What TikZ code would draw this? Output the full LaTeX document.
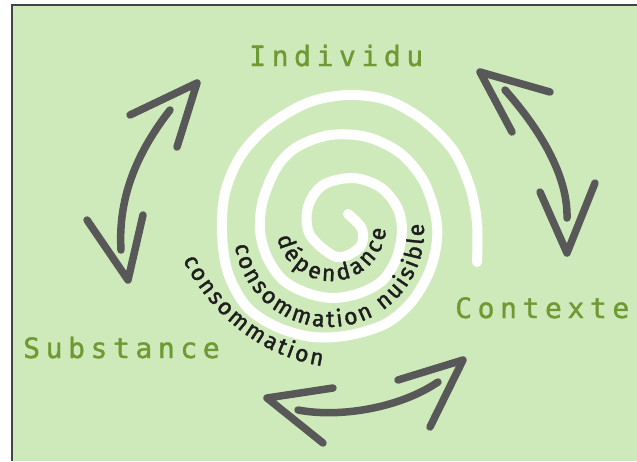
\documentclass[tikz,border=0pt]{standalone}
\usepackage{fontspec}
\usetikzlibrary{decorations.text}
\newfontfamily\labelfont[FakeBold=1.2]{DejaVu Sans Mono}
\newfontfamily\curvefont[FakeBold=1.6]{Fira Sans}
\definecolor{bg}{HTML}{CFEABA}
\definecolor{lblgreen}{HTML}{6E9A34}
\definecolor{arrowgray}{HTML}{585858}
\definecolor{ink}{HTML}{1E1E1E}
\definecolor{frame}{HTML}{444444}
\makeatletter
\def\spacedtext#1#2{\def\sp@kern{#1}\sp@loop#2\@nil}
\def\sp@loop#1{\ifx#1\@nil\else#1\kern\sp@kern\expandafter\sp@loop\fi}
\makeatother
\begin{document}
\begin{tikzpicture}[x=1pt,y=-1pt,
  lbl/.style={inner sep=0pt, anchor=base west, text=lblgreen, font=\labelfont\fontsize{28}{30}\selectfont},
  arr/.style={draw=arrowgray, line width=7.5pt, line cap=round, line join=round},
  spiralline/.style={draw=white, line width=10pt, line cap=round, line join=round}]
\useasboundingbox (0,0) rectangle (637,461);
\fill[white] (0,0) rectangle (637,461);
\fill[bg] (12,5) rectangle (637,461);
\draw[frame, line width=1.3pt] (12,461) -- (12,5) -- (637,5);

% labels
\node[lbl] (individu) at (249,66) {\spacedtext{5.6pt}{Individu}};
\node[lbl] (contexte) at (455,318) {\spacedtext{5.6pt}{Contexte}};
\node[lbl] (substance) at (23,358) {\spacedtext{5.6pt}{Substance}};

% spiral
\draw[spiralline] plot[smooth, tension=0.55] coordinates {
 (348,214) (362,229) (360,247) (337,257) (310,235) (308,207) (323,185) (353,178)
 (380,187) (397,207) (402,230) (397,257) (383,280) (360,293) (333,298) (307,293)
 (283,280) (267,257) (260,230) (263,200) (277,167) (297,147) (330,135) (367,137)
 (400,153) (423,180) (435,213) (437,240) (430,270) (413,300) (387,323) (350,335)
 (313,337) (277,327) (247,307) (228,273) (222,233) (225,193) (240,157) (267,127)
 (307,103) (347,95) (387,100) (423,120) (453,150) (470,187) (477,223) (477,262)};

% curved texts
\path[decorate, decoration={text along path, text align=fit to path,
  text={|\curvefont\fontsize{23}{25}\selectfont\color{ink}|dépendance}}]
  [shift={(331,226)}] (168:55) arc[start angle=168, end angle=3, radius=55];
\path[decorate, decoration={text along path, text align=fit to path,
  text={|\curvefont\fontsize{23}{25}\selectfont\color{ink}|consommation nuisible}}]
  [shift={(329,232)}] (172:95) arc[start angle=172, end angle=-5, radius=95];
\path[decorate, decoration={text along path, text align=fit to path,
  text={|\curvefont\fontsize{23}{25}\selectfont\color{ink}|consommation}}]
  (183,260) .. controls (208,310) and (255,355) .. (322,366);

% left arrow
\draw[arr] (170,110) .. controls (135,155) and (118,200) .. (121,250);
\draw[arr] (130,115) -- (197,83) -- (177,147);
\draw[arr] (87,220) -- (128,280) -- (143,215);
% right arrow
\draw[arr] (505,90) .. controls (545,135) and (568,180) .. (567,218);
\draw[arr] (550,92) -- (480,72) -- (512,132);
\draw[arr] (540,192) -- (567,253) -- (595,183);
% bottom arrow
\draw[arr] (298,410) .. controls (340,418) and (400,408) .. (438,382);
\draw[arr] (333,388) -- (267,398) -- (323,443);
\draw[arr] (398,380) -- (463,360) -- (430,427);
\end{tikzpicture}
\end{document}
